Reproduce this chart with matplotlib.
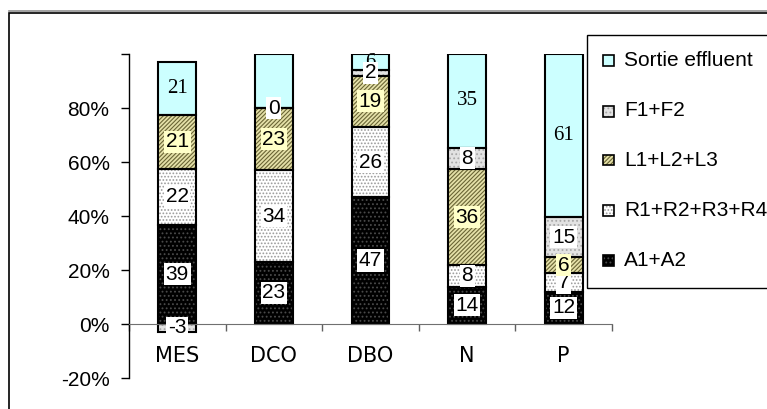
import numpy as np
import matplotlib
matplotlib.use('Agg')
import matplotlib.pyplot as plt
from matplotlib.patches import Rectangle
from matplotlib.lines import Line2D

categories = ['MES', 'DCO', 'DBO', 'N', 'P']
series_names = ['A1+A2', 'R1+R2+R3+R4', 'L1+L2+L3', 'F1+F2', 'Sortie effluent']
a_vals = [39, 23, 47, 14, 12]
r_vals = [22, 34, 26, 8, 7]
l_vals = [21, 23, 19, 36, 6]
f_vals = [-3, 0, 2, 8, 15]
s_vals = [21, 20, 6, 35, 61]
s_shown = [True, False, True, True, True]
y_ticks = [-20, 0, 20, 40, 60, 80, 100]
y_ticklabels = ['-20%', '0%', '20%', '40%', '60%', '80%', '']

plt.rcParams['hatch.linewidth'] = 0.8
SANS = 'Liberation Sans'
SERIF = 'Liberation Serif'
FS = 15

styles = [
    dict(fc='#000000', hc='#4a4a4a', hatch='....', lbg='white', fam=SANS, z=6),
    dict(fc='#FFFFFF', hc='#9a9a9a', hatch='.....', lbg='white', fam=SANS, z=7),
    dict(fc='#E4E0A8', hc='#6a6535', hatch='////////', lbg='#FFFFC8', fam=SANS, z=8),
    dict(fc='#E2E2E2', hc='#a8a8a8', hatch='....', lbg='white', fam=SANS, z=9),
    dict(fc='#CCFFFF', hc=None, hatch=None, lbg=None, fam=SERIF, z=5),
]

vals = np.array([a_vals, r_vals, l_vals, f_vals, s_vals], dtype=float)
shown = np.ones_like(vals, dtype=bool)
shown[4] = s_shown
tot = np.abs(vals).sum(axis=0)
pct = vals / tot * 100

fig = plt.figure(figsize=(7.67, 4.09), dpi=100)
ax = fig.add_axes([129 / 767, 31 / 409, (612 - 129) / 767, 324 / 409])

x = np.arange(len(categories))
width = 0.39
pos_base = np.zeros(len(categories))
neg_base = np.zeros(len(categories))

for i, name in enumerate(series_names):
    st = styles[i]
    h = pct[i]
    bottoms = np.where(h >= 0, pos_base, neg_base)
    if st['hatch']:
        ax.bar(x, h, width, bottom=bottoms, color=st['fc'], edgecolor=st['hc'],
               hatch=st['hatch'], linewidth=0, zorder=2)
    else:
        ax.bar(x, h, width, bottom=bottoms, color=st['fc'], linewidth=0, zorder=2)
    ax.bar(x, h, width, bottom=bottoms, fill=False, edgecolor='black', linewidth=1.5, zorder=3)
    for j in range(len(categories)):
        if not shown[i, j]:
            continue
        yc = bottoms[j] + h[j] / 2
        bbox = None
        if st['lbg']:
            bbox = dict(boxstyle='square,pad=0.08', fc=st['lbg'], ec='none')
        ax.text(x[j], yc, f"{int(vals[i, j])}", ha='center', va='center',
                fontsize=FS, family=st['fam'], bbox=bbox, zorder=st['z'])
    pos_base = pos_base + np.where(h >= 0, h, 0)
    neg_base = neg_base + np.where(h < 0, h, 0)

ax.set_xlim(-0.5, len(categories) - 0.5)
ax.set_ylim(-20, 100)
ax.set_yticks(y_ticks)
ax.set_yticklabels(y_ticklabels)
ax.set_xticks(x)
ax.set_xticklabels(categories)
ax.set_xticks(np.arange(-0.5, len(categories), 1.0), minor=True)
ax.tick_params(axis='x', which='major', length=0, pad=16, labelsize=FS)
ax.tick_params(axis='x', which='minor', length=5, direction='out', color='#606060', width=1)
ax.tick_params(axis='y', length=6, direction='out', width=1, pad=8, labelsize=FS)
for lab in ax.get_xticklabels() + ax.get_yticklabels():
    lab.set_family(SANS)
    lab.set_fontsize(FS)
for s in ['top', 'right']:
    ax.spines[s].set_visible(False)
ax.spines['bottom'].set_position(('data', 0))
ax.spines['bottom'].set_color('#707070')
ax.spines['bottom'].set_zorder(4)
ax.spines['left'].set_linewidth(1)
ax.patch.set_alpha(0)

# outer chart frame
fig.add_artist(Rectangle((9 / 767, -0.05), 1.2, (409 - 13) / 409 + 0.05,
                         transform=fig.transFigure, fill=False, edgecolor='black', linewidth=1.2))
fig.add_artist(Line2D([9 / 767, 1.0], [(409 - 11) / 409] * 2, transform=fig.transFigure,
                      color='#909090', linewidth=1.2))

# legend box
fig.add_artist(Rectangle((587 / 767, (409 - 288) / 409), 0.5, (288 - 35) / 409,
                         transform=fig.transFigure, fill=False, edgecolor='black', linewidth=1))
row_y = [60, 111, 160, 210, 260]
for k, i in enumerate(range(len(series_names) - 1, -1, -1)):
    st = styles[i]
    yc = row_y[k]
    sq = 11
    rx, ry = 603 / 767, (409 - yc - sq / 2) / 409
    w, hh = sq / 767, sq / 409
    if st['hatch']:
        fig.add_artist(Rectangle((rx, ry), w, hh, transform=fig.transFigure, facecolor=st['fc'],
                                 edgecolor=st['hc'], hatch=st['hatch'], linewidth=0))
    else:
        fig.add_artist(Rectangle((rx, ry), w, hh, transform=fig.transFigure, facecolor=st['fc'],
                                 linewidth=0))
    fig.add_artist(Rectangle((rx, ry), w, hh, transform=fig.transFigure, fill=False,
                             edgecolor='black', linewidth=1.2))
    fig.text(624 / 767, (409 - yc) / 409, series_names[i], ha='left', va='center',
             fontsize=FS, family=SANS)

fig.savefig('out.png', dpi=100)
